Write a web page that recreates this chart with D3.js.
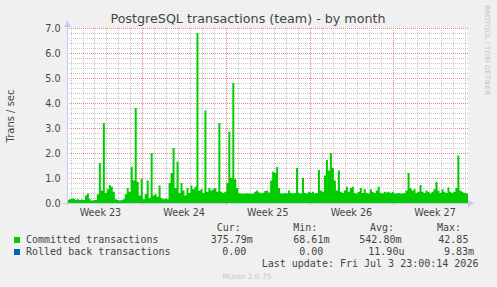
<!DOCTYPE html>
<html>
<head>
<meta charset="utf-8">
<script src="https://cdn.jsdelivr.net/npm/d3@7"></script>
<style>
  body { margin: 0; background: #f0f0f0; }
  svg { display: block; }
  text { font-family: "DejaVu Sans", sans-serif; fill: #444; }
  .mono { font-family: "DejaVu Sans Mono", monospace; font-size: 10px; }
</style>
</head>
<body>
<svg id="chart" width="497" height="287"></svg>
<script>
// time window of the graph and sample step (4 hours)
const startTime = new Date(2026, 5, 1, 16, 48);
const endTime = new Date(2026, 6, 5, 6, 8);
const stepHours = 4;

// committed transactions / sec, one value per 4h step
const committed = [
  0.12, 0.15, 0.18, 0.16, 0.13, 0.15, 0.12, 0.14, 0.12, 0.30,
  0.38, 0.15, 0.10, 0.11, 0.12, 0.35, 1.60, 0.50, 3.20, 0.40,
  0.55, 0.72, 0.65, 0.45, 0.15, 0.12, 0.10, 0.12, 0.15, 0.35,
  0.60, 0.45, 1.45, 0.90, 3.80, 0.85, 0.30, 0.96, 0.15, 0.35,
  0.90, 0.20, 2.00, 0.30, 0.35, 0.25, 0.70, 0.20, 0.15, 0.18,
  0.15, 0.80, 1.20, 2.20, 0.60, 1.65, 0.40, 0.80, 0.50, 0.30,
  0.60, 0.40, 0.70, 0.55, 0.65, 6.80, 0.50, 0.55, 0.40, 3.70,
  0.45, 0.60, 0.50, 0.55, 0.60, 0.45, 3.20, 0.45, 0.40, 0.45,
  0.80, 2.85, 1.00, 4.80, 0.95, 0.60, 0.38, 0.38, 0.37, 0.38,
  0.39, 0.38, 0.37, 0.38, 0.45, 0.50, 0.42, 0.38, 0.40, 0.48,
  0.50, 0.42, 0.90, 1.25, 1.20, 1.44, 0.60, 0.38, 0.38, 0.40,
  0.38, 0.50, 0.40, 0.38, 0.40, 1.40, 0.40, 0.38, 1.00, 0.40,
  0.38, 0.45, 0.40, 0.45, 0.38, 0.40, 1.32, 0.50, 0.45, 1.10,
  1.72, 1.30, 2.00, 1.40, 0.90, 0.50, 1.30, 0.45, 0.40, 0.50,
  0.65, 0.45, 0.60, 0.65, 0.40, 0.38, 0.45, 0.60, 0.40, 0.55,
  0.40, 0.38, 0.55, 0.45, 0.40, 0.50, 0.65, 0.40, 0.38, 0.45,
  0.42, 0.45, 0.40, 0.45, 0.38, 0.38, 0.40, 0.38, 0.38, 0.40,
  0.50, 1.20, 0.60, 0.50, 0.55, 0.40, 0.45, 0.72, 0.45, 0.40,
  0.50, 0.45, 0.38, 0.45, 0.55, 0.85, 0.50, 0.40, 0.55, 0.45,
  0.40, 0.62, 0.45, 0.40, 0.45, 0.60, 1.90, 0.50, 0.45, 0.40,
  0.38
];

// legend table
const seriesNames = ['Committed transactions', 'Rolled back transactions'];
const seriesColors = ['#00cc00', '#0066b3'];
const curVals = ['375.79m', '0.00'];
const minVals = ['68.61m', '0.00'];
const avgVals = ['542.80m', '11.90u'];
const maxVals = ['42.85', '9.83m'];
const lastUpdate = 'Last update: Fri Jul  3 23:00:14 2026';

const svg = d3.select('#chart');

// 1) scales
const x = d3.scaleTime().domain([startTime, endTime]).range([67, 468]);
const y = d3.scaleLinear().domain([0, 7]).range([203, 28]);

// plot background
svg.append('rect')
  .attr('x', 67).attr('y', 28)
  .attr('width', 401).attr('height', 175)
  .attr('fill', '#fff');

// 2) grid: minor first, then major (dotted, 1px on / 1px off)
const grid = svg.append('g').attr('stroke-dasharray', '1,1').attr('stroke-width', 1);
const minorColor = '#c6c6c6';
const majorColor = '#e88a8a';

function hLine(v, color) {
  const py = Math.round(y(v)) + 0.5;
  grid.append('line')
    .attr('x1', 67).attr('x2', 468)
    .attr('y1', py).attr('y2', py)
    .attr('stroke', color);
}
function vLine(d, color, bottom) {
  const px = Math.round(x(d)) + 0.5;
  grid.append('line')
    .attr('x1', px).attr('x2', px)
    .attr('y1', 28).attr('y2', bottom)
    .attr('stroke', color);
}

const majorY = y.ticks(7);
const mondays = d3.timeMonday.range(startTime, endTime);
y.ticks(35).filter(v => !majorY.some(m => Math.abs(m - v) < 1e-6)).forEach(v => hLine(v, minorColor));
d3.timeDay.range(startTime, endTime)
  .filter(d => !mondays.some(m => +m === +d))
  .forEach(d => vLine(d, minorColor, 203));
majorY.forEach(v => hLine(v, majorColor));
mondays.forEach(d => vLine(d, majorColor, 206));

// 3) committed area (step)
const points = committed.map((v, i) => ({ t: d3.timeHour.offset(startTime, i * stepHours), v }));
points.push({ t: endTime, v: committed[committed.length - 1] });

const area = d3.area()
  .curve(d3.curveStepAfter)
  .x(d => x(d.t))
  .y0(y(0))
  .y1(d => y(d.v));

svg.append('path')
  .datum(points)
  .attr('d', area)
  .attr('fill', seriesColors[0]);

// 4) axes
const axisColor = '#c8c8f4';
svg.append('line')
  .attr('x1', 67.5).attr('x2', 67.5).attr('y1', 206).attr('y2', 25)
  .attr('stroke', axisColor);
svg.append('path')
  .attr('d', 'M64,27 L71,27 L67.5,20.5 Z')
  .attr('fill', axisColor);
svg.append('line')
  .attr('x1', 63).attr('x2', 470).attr('y1', 203.5).attr('y2', 203.5)
  .attr('stroke', axisColor);
svg.append('path')
  .attr('d', 'M468,200 L468,207 L474.5,203.5 Z')
  .attr('fill', axisColor);

// y tick labels
svg.append('g').selectAll('text')
  .data(majorY)
  .join('text')
  .attr('x', 60.5)
  .attr('y', d => y(d) + 3.5)
  .attr('text-anchor', 'end')
  .attr('font-size', 9.6)
  .text(d3.format('.1f'));

// week labels, centred in each week
const weekFmt = d3.timeFormat('%V');
const weekStarts = d3.timeMonday.range(d3.timeMonday.floor(startTime), endTime);
svg.append('g').selectAll('text')
  .data(weekStarts.filter(d => {
    const mid = d3.timeHour.offset(d, 84);
    return mid > startTime && mid < endTime;
  }))
  .join('text')
  .attr('x', d => x(d3.timeHour.offset(d, 84)))
  .attr('y', 216)
  .attr('text-anchor', 'middle')
  .attr('font-size', 9.6)
  .text(d => 'Week ' + (+weekFmt(d)));

// 5) titles
svg.append('text')
  .attr('x', 248).attr('y', 23)
  .attr('text-anchor', 'middle')
  .attr('font-size', 12.7)
  .text('PostgreSQL transactions (team) - by month');

svg.append('text')
  .attr('transform', 'translate(14,116) rotate(-90)')
  .attr('text-anchor', 'middle')
  .attr('font-size', 10)
  .text('Trans / sec');

svg.append('text')
  .attr('transform', 'translate(485,5) rotate(90)')
  .attr('font-size', 7)
  .style('fill', '#c4c4c4')
  .text('RRDTOOL / TOBI OETIKER');

// 6) legend
const legend = svg.append('g');
[['Cur:', 216.7], ['Min:', 293.3], ['Avg:', 370], ['Max:', 437]].forEach(([t, lx]) => {
  legend.append('text').attr('class', 'mono').attr('x', lx).attr('y', 231).text(t);
});

const colX = [[210.7, 293.3, 359.3, 438.3], [222.3, 299.3, 368.3, 444]];
seriesNames.forEach((name, i) => {
  const ly = 243 + i * 12;
  legend.append('rect')
    .attr('x', 14).attr('y', ly - 6)
    .attr('width', 6).attr('height', 6)
    .attr('fill', seriesColors[i]);
  legend.append('text').attr('class', 'mono').attr('x', 26).attr('y', ly).text(name);
  [curVals[i], minVals[i], avgVals[i], maxVals[i]].forEach((v, j) => {
    legend.append('text').attr('class', 'mono').attr('x', colX[i][j]).attr('y', ly).text(v);
  });
});

legend.append('text').attr('class', 'mono')
  .attr('x', 261.7).attr('y', 267)
  .text(lastUpdate);

svg.append('text')
  .attr('x', 247).attr('y', 279)
  .attr('text-anchor', 'middle')
  .attr('font-size', 7.5)
  .style('fill', '#c8c8c8')
  .text('Munin 2.0.75');
</script>
</body>
</html>
